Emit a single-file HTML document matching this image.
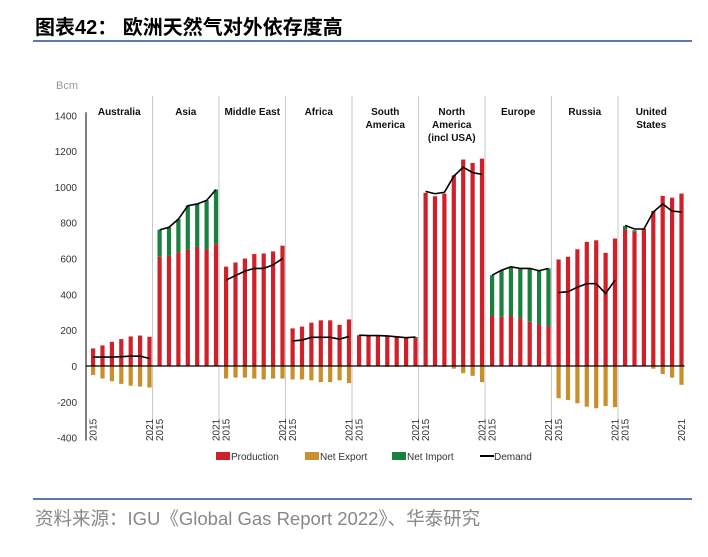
<!DOCTYPE html>
<html><head><meta charset="utf-8"><style>
body{margin:0;background:#fff;width:708px;height:552px;overflow:hidden;font-family:"Liberation Sans","Noto Sans CJK SC",sans-serif}
</style></head><body>
<svg width="708" height="552" xmlns="http://www.w3.org/2000/svg">
<text x="35" y="34" font-size="20" font-weight="bold" fill="#000" font-family="'Liberation Sans','Noto Sans CJK SC',sans-serif">图表42： 欧洲天然气对外依存度高</text>
<line x1="33" y1="41" x2="692" y2="41" stroke="#5b7bab" stroke-width="2"/>
<text x="56" y="89" font-size="11" fill="#999">Bcm</text>
<g id="plot"></g>
<g id="legend">
<rect x="216" y="452" width="14" height="8" fill="#d0202a"/>
<text x="231" y="460" font-size="10" fill="#333">Production</text>
<rect x="305" y="452" width="14" height="8" fill="#c8902a"/>
<text x="320" y="460" font-size="10" fill="#333">Net Export</text>
<rect x="392" y="452" width="14" height="8" fill="#1a8040"/>
<text x="407" y="460" font-size="10" fill="#333">Net Import</text>
<line x1="480" y1="456" x2="494" y2="456" stroke="#000" stroke-width="2"/>
<text x="494" y="460" font-size="10" fill="#333">Demand</text>
</g>
<line x1="33" y1="499" x2="692" y2="499" stroke="#5b7bab" stroke-width="2"/>
<text x="35" y="525" font-size="18.5" fill="#888" font-family="'Liberation Sans','Noto Sans CJK SC',sans-serif">资料来源：IGU《Global Gas Report 2022》、华泰研究</text>
</svg>
<script>
const regions=["Australia","Asia","Middle East","Africa","South|America","North|America|(incl USA)","Europe","Russia","United|States"];
const production=[[98,115,135,150,165,170,163],[610,615,635,650,665,650,680],[555,578,600,625,628,640,672],[210,220,242,255,255,230,260],[172,170,172,168,165,158,154],[967,948,963,1065,1153,1134,1158],[279,275,279,266,247,232,223],[595,610,652,693,702,632,712],[762,750,768,866,950,940,963]];
const netExport=[[-50,-70,-85,-100,-110,-115,-120],[0,0,0,0,0,0,0],[-70,-65,-65,-70,-75,-70,-70],[-75,-75,-80,-90,-90,-80,-95],[-3,-3,-3,-5,-5,-3,0],[0,0,-5,-15,-40,-55,-90],[0,0,0,0,0,0,0],[-180,-190,-208,-227,-236,-223,-230],[0,0,0,-15,-45,-65,-105]];
const netImport=[[0,0,0,0,0,0,0],[150,160,185,245,240,275,305],[0,0,0,0,0,0,0],[0,0,0,0,0,0,0],[0,0,0,0,0,0,8],[0,0,0,0,0,0,0],[228,260,275,279,298,300,322],[0,0,0,0,0,0,0],[20,8,0,0,0,0,0]];
const demand=[[50,50,50,52,55,55,42],[760,775,820,895,905,925,985],[480,505,530,545,545,565,600],[140,145,160,160,160,150,165],[172,170,170,168,163,158,162],[975,962,970,1060,1110,1080,1070],[507,535,554,545,545,532,545],[410,415,440,460,460,405,480],[785,765,765,860,905,865,860]];
const yTicks=[-400,-200,0,200,400,600,800,1000,1200,1400];
const years=["2015","2021"];
const NS="http://www.w3.org/2000/svg";
const plot=document.getElementById('plot');
const X0=86,PW=66.5,Y0=366,K=250.7/1400;
const y=v=>Y0-v*K;
const bx=(r,i)=>X0+r*PW+5+i*9.4;
function el(t,a){const e=document.createElementNS(NS,t);for(const k in a)e.setAttribute(k,a[k]);plot.appendChild(e);return e;}
let ax=el('line',{x1:X0,y1:y(1400)-3,x2:X0,y2:y(-400)+3,stroke:'#000','stroke-width':1});


yTicks.forEach(t=>{const e=el('text',{x:X0-9,y:y(t)+4,'font-size':10,fill:'#333','text-anchor':'end'});e.textContent=t;

});
regions.forEach((name,r)=>{
 const px=X0+(r+1)*PW;
 if(r<8){const d=el('line',{x1:px,y1:96,x2:px,y2:440,stroke:'#c8c8c8','stroke-width':1});
 
 }
 const lines=name.split('|');
 lines.forEach((ln,j)=>{const t=el('text',{x:X0+r*PW+PW/2,y:115+j*13,'font-size':10,'font-weight':'bold',fill:'#111','text-anchor':'middle'});t.textContent=ln;
 
 });
 for(let i=0;i<7;i++){
  const x=bx(r,i),p=production[r][i],im=netImport[r][i],ex=netExport[r][i];
  const b=el('rect',{x:x,y:y(p),width:4.2,height:p*K,fill:'#d0202a'});
  
  
  if(im>0){const g=el('rect',{x:x,y:y(p+im),width:4.2,height:im*K,fill:'#1a8040'});
  
  }
  if(ex<0){const o=el('rect',{x:x,y:Y0,width:4.2,height:-ex*K,fill:'#c8902a'});
  
  }
 }
 const pts=demand[r].map((v,i)=>(bx(r,i)+2.1)+','+y(v)).join(' ');
 const pl=el('polyline',{points:pts,fill:'none',stroke:'#000','stroke-width':1.6});
 
 
 [0,6].forEach((i,k)=>{const xx=bx(r,i)+5.5;const t=el('text',{x:xx,y:441,'font-size':10,fill:'#333',transform:`rotate(-90 ${xx} 441)`});t.textContent=years[k];
 
 });
});
const z=el('line',{x1:X0,y1:Y0,x2:X0+9*PW,y2:Y0,stroke:'#000','stroke-width':1.2});


</script>
</body></html>
